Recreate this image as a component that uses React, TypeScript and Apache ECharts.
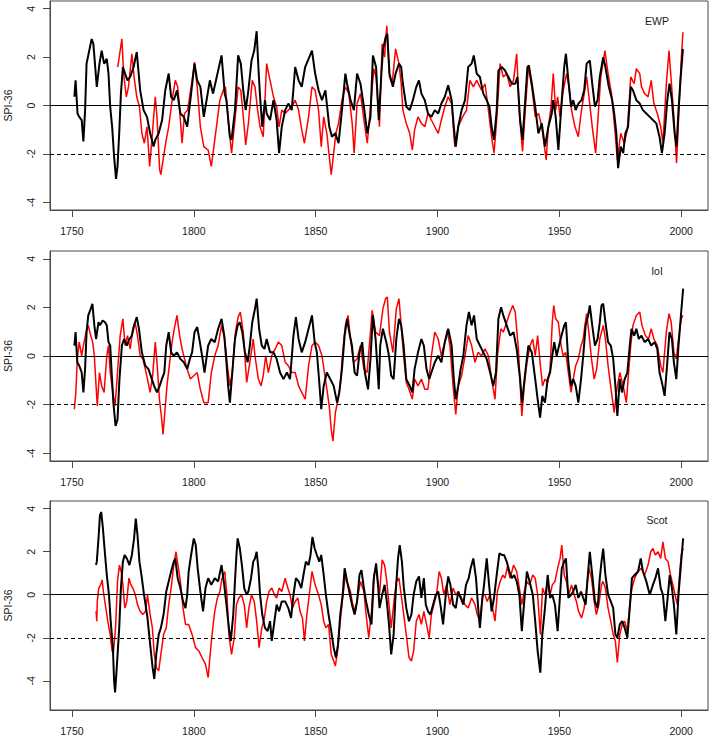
import React, { useEffect, useRef } from "react";
import * as echarts from "echarts";

const yearTicks = [1750, 1800, 1850, 1900, 1950, 2000];
const spiTicks = [-4, -2, 0, 2, 4];
const panelNames = ["EWP", "IoI", "Scot"];
const yLimits: [number, number][] = [[-4.32, 4.32], [-4.32, 4.32], [-5.36, 4.36]];
const refLevels = { zero: 0, drought: -2 };

const ewpBlack: [number, number][] = [[1751.0,0.36],[1751.5,1.04],[1752.3,-0.33],[1753.0,-0.47],[1754.0,-0.60],[1754.7,-1.49],[1755.4,-0.19],[1756.0,1.73],[1757.1,2.27],[1758.1,2.75],[1758.8,2.55],[1760.2,0.77],[1761.3,1.73],[1762.2,2.27],[1763.2,1.73],[1764.3,1.93],[1765.0,1.32],[1765.7,-0.05],[1766.5,-0.88],[1767.3,-2.11],[1768.1,-3.03],[1768.7,-2.52],[1769.4,-1.15],[1770.1,0.49],[1770.9,1.59],[1771.8,1.32],[1772.8,1.04],[1773.9,1.18],[1775.3,1.59],[1776.6,2.21],[1778.0,0.63],[1779.4,-0.19],[1780.8,-0.47],[1782.1,-1.15],[1783.5,-1.70],[1784.2,-1.42],[1785.6,-1.15],[1787.0,-0.60],[1788.3,0.63],[1789.7,1.32],[1790.7,0.36],[1791.8,0.22],[1793.1,0.63],[1794.5,-0.33],[1795.9,-0.47],[1797.3,-0.88],[1798.6,0.22],[1800.3,1.73],[1801.4,1.04],[1802.7,0.77],[1804.1,-0.47],[1806.6,1.04],[1807.9,0.49],[1810.0,1.45],[1811.4,2.07],[1812.7,0.49],[1813.4,0.22],[1814.8,-1.29],[1815.5,-1.42],[1816.9,-0.19],[1818.2,2.07],[1819.3,1.73],[1820.3,0.63],[1821.3,-0.19],[1822.4,0.63],[1823.7,1.86],[1824.8,2.27],[1825.8,3.07],[1826.5,1.59],[1827.2,0.36],[1828.1,-0.88],[1829.2,0.22],[1829.9,-0.33],[1831.3,-0.60],[1832.7,0.22],[1834.0,-0.60],[1835.0,-1.97],[1836.1,-0.88],[1837.5,-0.19],[1838.8,0.08],[1840.2,-0.19],[1841.6,1.59],[1843.0,1.04],[1844.3,0.77],[1845.7,1.59],[1847.1,1.93],[1848.5,2.27],[1849.8,1.32],[1851.2,0.63],[1852.6,0.22],[1854.0,0.63],[1855.6,-0.88],[1856.7,-1.29],[1858.1,-1.15],[1859.4,-1.56],[1860.8,-0.19],[1862.2,1.32],[1862.9,0.90],[1864.3,0.22],[1865.7,-0.19],[1867.0,1.32],[1868.4,0.90],[1869.8,-0.05],[1871.2,-1.15],[1872.5,-0.47],[1873.5,2.07],[1874.8,1.59],[1875.9,-0.60],[1876.9,1.18],[1877.6,2.27],[1878.7,2.82],[1879.4,2.96],[1880.3,1.32],[1881.7,0.77],[1882.8,1.32],[1884.2,1.73],[1885.1,1.59],[1885.8,0.90],[1887.2,-0.05],[1888.6,-0.19],[1889.9,0.22],[1891.3,0.77],[1892.4,1.04],[1893.4,0.49],[1894.8,0.22],[1896.1,-0.33],[1897.5,-0.47],[1898.9,-0.19],[1900.3,-0.33],[1901.6,0.08],[1903.0,0.36],[1904.4,0.84],[1905.8,0.22],[1906.7,-0.88],[1907.5,-1.70],[1908.5,-0.88],[1909.9,-0.19],[1911.3,0.22],[1912.6,1.59],[1914.0,1.73],[1914.9,2.07],[1916.1,1.32],[1917.4,1.18],[1918.8,0.49],[1920.2,0.22],[1921.3,-0.05],[1922.2,-0.88],[1923.2,-1.42],[1924.3,-0.19],[1925.0,1.45],[1926.4,1.59],[1927.7,1.45],[1929.1,1.18],[1930.5,0.90],[1931.9,0.90],[1932.8,1.18],[1933.9,-0.60],[1934.9,-1.42],[1936.0,0.22],[1936.9,1.59],[1937.5,1.66],[1938.7,0.90],[1940.1,-0.05],[1941.4,-1.15],[1942.8,-0.74],[1944.1,-1.70],[1945.5,-0.88],[1946.9,-0.33],[1947.5,0.22],[1948.5,-0.47],[1949.6,-1.84],[1951.0,0.22],[1952.0,1.59],[1952.7,2.14],[1953.7,1.04],[1954.8,-0.05],[1955.7,0.22],[1956.7,-0.19],[1957.8,0.08],[1959.1,0.22],[1960.2,0.63],[1961.2,1.73],[1962.5,1.86],[1963.5,0.90],[1964.6,-0.05],[1965.7,0.22],[1966.6,1.18],[1968.0,2.00],[1968.9,1.59],[1970.3,0.77],[1971.7,0.22],[1972.5,-0.33],[1973.4,-1.15],[1974.1,-2.59],[1975.2,-1.70],[1976.2,-1.97],[1977.1,-1.15],[1978.2,-0.88],[1979.3,0.77],[1980.2,0.63],[1981.6,0.22],[1983.0,0.08],[1984.3,-0.19],[1985.7,-0.33],[1987.1,-0.47],[1988.4,-0.60],[1989.8,-0.74],[1991.1,-1.29],[1992.1,-1.97],[1993.2,-1.15],[1994.3,0.22],[1995.2,0.90],[1996.2,0.22],[1997.3,-1.15],[1998.1,-1.70],[1998.9,-0.19],[1999.7,1.04],[2000.7,2.34]];

const ewpRed: [number, number][] = [[1768.8,1.59],[1770.5,2.75],[1771.2,1.32],[1772.3,0.36],[1773.2,0.77],[1774.6,2.14],[1775.5,1.18],[1776.6,0.36],[1777.7,-0.05],[1778.7,-1.15],[1779.7,-1.56],[1780.8,-0.88],[1781.9,-2.52],[1782.8,-1.42],[1784.2,0.36],[1784.9,-0.47],[1786.0,-2.66],[1786.5,-2.86],[1787.6,-2.11],[1788.7,-1.42],[1789.7,-0.88],[1791.1,0.22],[1792.4,1.04],[1793.4,0.77],[1794.2,-0.19],[1795.2,-1.56],[1796.2,-0.33],[1797.5,-0.19],[1799.3,1.04],[1800.3,1.79],[1801.4,0.77],[1802.7,-0.88],[1804.1,-1.70],[1805.9,-1.84],[1807.2,-2.52],[1807.9,-1.97],[1809.3,-0.88],[1810.7,0.22],[1812.1,0.63],[1813.0,0.77],[1814.1,-0.60],[1815.5,-1.97],[1816.9,-0.60],[1818.2,0.77],[1819.3,0.63],[1820.7,-0.88],[1821.3,-1.63],[1822.4,-0.74],[1824.0,1.04],[1825.1,0.77],[1826.2,-0.19],[1827.2,-0.88],[1828.5,-1.29],[1829.9,1.73],[1831.3,1.04],[1832.7,0.36],[1834.0,-0.05],[1835.0,-0.88],[1836.1,-0.19],[1837.5,-0.33],[1838.8,-0.19],[1840.2,-0.05],[1841.6,0.22],[1843.0,-0.19],[1844.3,-1.01],[1845.4,-1.56],[1847.1,-0.47],[1848.5,0.77],[1849.8,0.63],[1851.2,-0.19],[1852.3,-1.70],[1853.3,-0.47],[1854.6,-1.15],[1855.6,-2.11],[1856.4,-2.86],[1857.4,-1.97],[1858.3,-1.15],[1859.4,-0.74],[1860.8,0.22],[1862.2,0.77],[1863.6,0.49],[1865.0,-0.74],[1865.8,-1.97],[1867.0,0.08],[1868.4,0.49],[1869.8,-0.60],[1871.2,-1.56],[1872.5,-0.05],[1873.9,1.52],[1874.8,1.18],[1876.2,-0.88],[1877.3,2.55],[1878.3,2.00],[1879.2,3.30],[1880.3,1.18],[1881.4,0.90],[1882.8,2.34],[1884.2,1.73],[1885.1,0.90],[1885.8,-0.19],[1887.2,-0.74],[1888.6,-1.15],[1889.7,-1.84],[1890.6,-1.01],[1892.0,-0.47],[1893.4,-0.74],[1894.8,-0.88],[1896.1,-0.33],[1897.5,-0.60],[1898.9,-0.88],[1900.3,-1.15],[1901.6,-0.60],[1903.0,-0.05],[1904.4,0.36],[1905.8,0.08],[1907.1,-1.70],[1908.5,-0.88],[1910.3,-0.47],[1911.9,-0.19],[1913.3,1.04],[1914.7,0.77],[1916.1,1.04],[1918.1,0.63],[1919.5,0.90],[1920.9,-0.19],[1922.2,-1.29],[1923.2,-1.97],[1924.3,-0.60],[1925.7,1.73],[1927.0,1.18],[1928.4,1.32],[1929.8,0.77],[1931.2,1.04],[1932.5,2.14],[1933.6,-0.33],[1934.9,-1.90],[1936.0,-0.19],[1937.3,1.59],[1938.7,0.77],[1940.1,-0.47],[1941.5,-0.33],[1942.8,-0.88],[1944.6,-2.25],[1945.5,-0.88],[1946.6,-0.05],[1947.5,1.32],[1948.5,-0.19],[1949.3,0.36],[1950.3,-0.47],[1951.6,0.63],[1953.0,1.32],[1954.0,0.77],[1955.0,-0.19],[1956.4,-0.88],[1957.8,-1.29],[1958.9,-0.33],[1960.2,0.49],[1961.2,1.18],[1962.3,0.22],[1963.5,-0.88],[1964.9,-1.97],[1965.9,-0.47],[1967.0,1.18],[1968.7,2.27],[1970.0,1.32],[1971.4,0.49],[1972.8,-1.01],[1973.8,-2.25],[1975.2,-1.15],[1976.6,-1.56],[1977.9,-1.01],[1979.3,1.18],[1980.7,0.90],[1981.6,1.52],[1983.0,1.32],[1983.7,0.77],[1985.0,0.49],[1986.4,0.36],[1987.7,1.04],[1988.8,0.08],[1990.2,-0.33],[1991.6,-0.88],[1992.5,-1.56],[1993.9,0.90],[1995.0,2.27],[1995.9,1.04],[1997.0,-0.47],[1998.1,-2.38],[1998.9,-0.60],[2000.0,1.86],[2000.7,3.03]];

const ioiBlack: [number, number][] = [[1751.0,0.43],[1751.5,0.98],[1752.2,-0.26],[1753.0,-0.40],[1754.0,-0.68],[1754.7,-1.50],[1755.4,-0.54],[1756.0,0.98],[1756.7,1.67],[1757.7,1.94],[1758.4,2.15],[1759.2,1.26],[1759.9,0.70],[1760.9,1.39],[1761.5,1.26],[1762.6,1.46],[1763.6,1.39],[1764.3,1.26],[1765.0,0.57],[1765.7,0.43],[1766.3,-0.68],[1767.0,-1.92],[1767.9,-2.88],[1768.7,-2.61],[1769.5,-0.95],[1770.5,0.43],[1771.4,0.70],[1772.5,0.43],[1773.6,0.70],[1774.6,0.84],[1775.5,1.26],[1776.6,1.60],[1777.5,1.12],[1778.7,0.15],[1780.1,-0.40],[1781.4,-0.54],[1782.8,-0.95],[1783.7,-1.23],[1784.9,-1.50],[1786.0,-1.23],[1786.9,-0.95],[1787.9,-0.68],[1788.7,0.43],[1789.7,0.98],[1790.7,0.15],[1791.8,0.01],[1793.1,0.15],[1794.5,-0.12],[1795.9,-0.26],[1797.3,-0.54],[1798.4,-0.12],[1799.3,0.15],[1800.3,0.98],[1801.4,1.19],[1802.5,0.57],[1803.4,0.01],[1804.4,-0.68],[1805.9,0.43],[1807.2,0.70],[1808.6,0.57],[1810.0,1.12],[1811.4,1.53],[1812.5,0.84],[1813.4,-0.26],[1814.1,-1.23],[1814.8,-1.92],[1815.8,-0.68],[1816.9,0.70],[1818.0,1.26],[1818.9,1.39],[1819.9,0.98],[1821.0,0.15],[1822.1,-0.26],[1823.0,0.43],[1824.0,1.39],[1825.1,1.94],[1825.8,2.36],[1826.8,1.12],[1827.9,0.43],[1829.0,0.29],[1829.9,0.70],[1831.3,0.15],[1832.7,0.15],[1834.0,-0.12],[1835.4,-0.68],[1836.8,-0.95],[1838.2,-0.68],[1839.5,-0.95],[1840.9,0.84],[1841.9,1.60],[1843.0,0.70],[1844.3,0.15],[1845.7,0.57],[1847.1,1.12],[1848.5,1.67],[1849.6,0.57],[1850.5,0.15],[1851.5,-1.09],[1852.3,-2.19],[1853.3,-1.23],[1854.6,-0.68],[1856.0,-0.95],[1857.4,-1.23],[1858.8,-1.92],[1859.7,-1.50],[1860.8,-0.54],[1861.9,0.84],[1862.9,1.53],[1863.8,0.98],[1864.9,0.43],[1866.0,-0.68],[1867.0,-0.81],[1868.0,0.15],[1869.1,0.57],[1870.2,-0.68],[1871.5,-1.37],[1872.5,-0.12],[1873.5,1.67],[1874.6,0.70],[1875.9,-1.37],[1876.5,0.43],[1877.6,1.12],[1879.0,0.57],[1880.1,0.01],[1881.0,-0.81],[1882.0,-0.95],[1883.1,0.70],[1884.2,1.53],[1885.1,1.26],[1886.1,0.43],[1887.2,-0.95],[1888.6,-1.23],[1889.7,-1.50],[1890.6,-0.54],[1892.0,0.15],[1893.4,0.70],[1894.4,0.43],[1895.5,-0.54],[1896.6,-0.95],[1897.5,-0.68],[1898.9,-0.26],[1900.3,0.01],[1901.6,-0.26],[1903.0,0.57],[1904.4,1.12],[1905.8,0.43],[1906.7,-0.95],[1907.5,-1.78],[1908.5,-1.23],[1909.5,-0.54],[1910.6,0.01],[1911.9,1.26],[1912.9,1.81],[1914.0,1.26],[1915.0,1.67],[1916.1,0.70],[1917.4,0.43],[1918.8,0.15],[1920.2,-0.12],[1921.6,-0.68],[1922.9,-1.23],[1924.0,-0.68],[1925.0,1.53],[1926.1,2.01],[1927.0,1.67],[1928.4,1.26],[1929.8,0.84],[1931.2,0.98],[1932.5,0.29],[1933.9,-0.95],[1934.7,-1.92],[1936.0,-0.68],[1937.3,0.43],[1938.7,0.15],[1940.1,-0.95],[1941.1,-1.78],[1942.1,-2.54],[1943.0,-1.64],[1944.1,-1.92],[1945.2,-0.95],[1946.2,-0.68],[1947.1,0.01],[1947.9,0.57],[1948.9,0.01],[1949.9,0.43],[1950.9,0.84],[1952.0,1.26],[1952.7,1.39],[1953.7,-0.26],[1954.8,-1.23],[1955.7,-0.95],[1956.7,-1.23],[1957.8,-1.92],[1958.9,-0.95],[1959.8,0.01],[1960.8,1.26],[1961.8,1.67],[1962.5,2.08],[1963.5,1.26],[1964.6,0.43],[1965.7,0.70],[1966.6,1.39],[1967.3,2.08],[1968.0,2.15],[1968.9,1.39],[1970.0,0.57],[1971.1,0.43],[1972.1,-0.12],[1973.0,-1.23],[1973.8,-2.47],[1974.8,-0.95],[1975.7,-1.50],[1976.8,-0.95],[1977.9,-0.68],[1978.9,0.43],[1979.6,1.12],[1980.7,0.84],[1981.6,1.12],[1982.6,0.70],[1983.7,0.84],[1985.0,0.57],[1986.4,0.70],[1987.7,0.43],[1989.1,0.57],[1990.2,0.29],[1991.1,-0.68],[1992.1,-1.09],[1993.2,-1.64],[1994.3,-0.26],[1995.2,0.98],[1996.2,0.70],[1997.0,-0.26],[1998.0,-0.95],[1998.9,0.43],[2000.0,1.81],[2000.8,2.77]];

const ioiRed: [number, number][] = [[1751.0,-2.19],[1751.6,-1.50],[1752.2,-0.12],[1753.0,0.57],[1754.0,0.01],[1754.7,0.43],[1755.8,0.98],[1756.7,1.26],[1757.7,0.84],[1758.5,0.57],[1759.2,0.01],[1759.9,-1.23],[1760.4,-2.06],[1761.3,-0.68],[1762.2,-1.23],[1763.2,-1.50],[1764.3,0.01],[1765.0,0.43],[1765.7,-0.68],[1766.8,-1.50],[1767.7,-2.06],[1768.7,-0.68],[1769.8,0.84],[1770.9,1.53],[1771.8,0.43],[1772.8,0.84],[1773.9,0.29],[1775.0,1.12],[1775.9,1.39],[1776.9,0.84],[1778.0,0.01],[1779.1,-0.12],[1780.1,-0.54],[1781.0,-0.95],[1782.1,-1.50],[1783.1,-0.81],[1784.2,0.57],[1784.9,-0.26],[1785.9,-1.78],[1786.7,-2.47],[1787.4,-3.23],[1788.1,-2.33],[1789.0,-1.23],[1790.1,-0.26],[1791.1,0.57],[1792.0,1.12],[1793.1,1.67],[1794.2,0.84],[1795.2,0.29],[1796.2,-0.12],[1797.3,-0.54],[1798.6,-0.95],[1800.0,-0.81],[1801.4,-0.68],[1802.7,-1.37],[1804.1,-1.92],[1805.9,-1.92],[1807.2,-0.68],[1808.6,0.01],[1810.0,0.43],[1811.4,1.26],[1812.7,0.70],[1813.8,-0.40],[1814.8,-1.23],[1815.8,-0.68],[1817.1,0.98],[1818.2,1.60],[1819.1,1.81],[1820.3,0.98],[1821.7,-1.09],[1823.0,-0.26],[1824.4,0.70],[1825.1,0.01],[1826.5,-0.95],[1827.6,-1.23],[1828.5,-0.81],[1829.5,0.01],[1830.6,-0.68],[1832.0,0.01],[1833.4,0.29],[1834.7,0.57],[1836.1,0.43],[1837.5,-0.26],[1838.8,-0.40],[1840.2,-0.68],[1841.6,-0.68],[1843.0,-1.23],[1844.3,-1.50],[1845.7,-1.78],[1847.1,-0.40],[1848.5,0.43],[1849.8,0.57],[1851.2,0.43],[1852.6,0.01],[1854.0,-0.95],[1855.6,-2.06],[1856.4,-3.02],[1857.1,-3.50],[1858.1,-2.33],[1859.2,-1.78],[1860.1,-1.23],[1861.1,0.15],[1862.2,1.26],[1863.3,1.67],[1864.3,0.70],[1865.6,-0.26],[1867.0,-0.12],[1868.4,0.43],[1869.8,-0.54],[1871.1,-0.68],[1872.5,0.98],[1873.2,1.88],[1874.6,0.98],[1876.2,0.84],[1877.6,1.94],[1878.7,2.36],[1879.4,2.43],[1880.3,0.98],[1881.7,0.15],[1883.1,1.94],[1884.2,2.36],[1885.1,1.26],[1886.1,0.01],[1887.2,-1.09],[1888.3,-1.37],[1889.7,-1.78],[1890.6,-0.95],[1892.0,-1.23],[1893.4,-0.95],[1894.8,-1.37],[1896.1,-1.37],[1897.5,0.01],[1898.9,0.98],[1900.3,0.70],[1901.6,0.01],[1903.0,0.57],[1904.0,1.05],[1905.1,0.43],[1906.4,-1.23],[1907.5,-2.40],[1908.5,-1.23],[1909.9,-0.81],[1911.3,0.01],[1912.6,0.84],[1914.0,0.43],[1915.4,-0.26],[1916.7,0.15],[1918.1,0.01],[1919.5,0.29],[1920.9,0.01],[1922.2,-0.95],[1923.6,-1.78],[1924.6,0.01],[1926.0,1.12],[1927.0,0.98],[1928.4,1.39],[1929.8,1.81],[1930.9,2.08],[1931.9,1.81],[1933.2,0.29],[1934.6,-2.47],[1935.6,-1.23],[1936.7,-0.26],[1938.0,0.43],[1939.1,0.70],[1940.1,0.01],[1941.1,0.84],[1942.1,-0.26],[1943.1,-1.23],[1944.1,-0.95],[1945.2,-1.09],[1946.2,-0.54],[1947.1,1.39],[1947.7,2.08],[1948.5,1.53],[1949.6,1.39],[1950.7,0.43],[1951.6,0.01],[1952.6,0.15],[1953.7,-0.68],[1954.8,-1.50],[1955.7,-0.95],[1956.7,-0.40],[1957.8,-0.12],[1958.9,0.43],[1959.8,0.70],[1960.5,1.26],[1961.2,1.74],[1962.1,0.98],[1963.2,-0.12],[1964.3,-0.95],[1965.3,-0.54],[1966.6,0.70],[1968.0,1.26],[1968.9,0.70],[1970.0,-0.40],[1971.4,-1.50],[1972.5,-2.33],[1973.4,-1.50],[1974.8,-0.68],[1976.2,-1.23],[1977.5,-1.92],[1978.2,-0.95],[1979.3,0.43],[1980.2,1.26],[1981.6,1.67],[1983.0,1.81],[1983.9,1.26],[1985.3,0.84],[1986.6,0.70],[1987.7,1.12],[1988.8,0.70],[1990.2,0.43],[1991.6,-0.40],[1992.5,-0.68],[1993.9,0.98],[1995.0,1.74],[1995.9,1.39],[1997.0,0.15],[1998.0,-0.12],[1998.9,0.70],[2000.0,1.53],[2000.7,1.67]];

const scotBlack: [number, number][] = [[1759.9,1.38],[1760.2,1.54],[1760.9,2.62],[1761.5,3.69],[1762.0,3.85],[1762.6,3.23],[1763.6,1.85],[1764.3,0.92],[1765.2,0],[1765.9,-1.23],[1766.8,-2.46],[1767.3,-4.0],[1767.7,-4.54],[1768.4,-3.38],[1769.4,-1.54],[1770.1,0.31],[1770.9,1.54],[1771.6,1.85],[1772.5,1.69],[1773.6,1.38],[1774.6,1.85],[1775.5,2.62],[1776.2,3.54],[1776.9,2.77],[1777.7,1.54],[1778.7,0.77],[1779.4,0.15],[1780.2,-0.46],[1781.0,-1.08],[1782.1,-2.31],[1783.1,-3.38],[1783.8,-3.92],[1784.6,-2.77],[1785.6,-1.85],[1786.5,-1.54],[1787.6,-0.92],[1788.7,0.15],[1789.7,0.62],[1790.7,1.08],[1791.8,1.54],[1792.4,1.69],[1793.4,0.77],[1794.5,0.31],[1795.6,-0.31],[1796.6,-0.62],[1797.3,0],[1797.9,1.08],[1798.9,1.85],[1800.0,2.62],[1800.8,2.31],[1801.6,1.23],[1802.7,0.15],[1803.8,-0.77],[1804.8,0.31],[1805.9,0.77],[1807.2,0.46],[1808.6,0.77],[1810.0,0.62],[1811.4,1.38],[1812.5,0.46],[1813.4,-0.46],[1814.4,-1.54],[1815.2,-2.15],[1816.2,-0.92],[1816.9,0.62],[1817.5,1.85],[1818.0,2.62],[1818.9,2.15],[1819.9,1.23],[1820.7,0.31],[1821.7,0],[1822.4,0.15],[1823.5,0.77],[1824.4,1.54],[1825.1,1.69],[1825.8,2.00],[1826.5,1.23],[1827.2,0],[1828.1,-0.92],[1829.2,-1.54],[1830.3,-1.69],[1831.3,-1.23],[1832.0,-2.15],[1833.1,-1.23],[1834.0,-0.46],[1835.0,-0.77],[1836.1,-0.31],[1837.5,-0.31],[1838.8,-0.62],[1839.9,-1.08],[1840.9,0],[1841.9,0.77],[1843.0,0.62],[1844.1,0.31],[1845.0,0.92],[1846.0,1.54],[1847.1,1.38],[1847.9,1.85],[1848.7,2.69],[1849.6,2.15],[1850.5,1.85],[1851.5,1.54],[1852.3,1.85],[1853.3,0.92],[1854.2,0],[1855.3,-0.92],[1856.4,-1.69],[1857.4,-2.46],[1858.3,-2.92],[1859.2,-2.31],[1860.1,-0.92],[1861.1,0],[1861.9,1.23],[1862.9,0.62],[1863.8,0.15],[1864.9,-0.46],[1866.0,-0.92],[1867.0,-0.31],[1868.0,0.92],[1868.8,1.15],[1869.8,0.31],[1870.7,-0.31],[1871.8,-0.92],[1872.9,-1.38],[1873.9,0.77],[1874.8,1.46],[1875.7,0.31],[1876.2,-0.62],[1877.3,0],[1878.3,0.46],[1879.2,-0.31],[1880.1,-1.38],[1881.0,-2.77],[1882.0,-1.85],[1882.8,0],[1883.8,1.69],[1884.5,2.31],[1885.4,1.54],[1886.2,0.31],[1887.2,-0.62],[1888.3,-1.23],[1889.3,-0.92],[1890.2,0],[1891.3,0.62],[1892.4,0.85],[1893.4,-0.15],[1894.4,0.77],[1895.2,-0.46],[1896.1,-0.77],[1897.1,-0.92],[1898.2,-0.46],[1899.3,0],[1900.3,0.15],[1901.2,-0.46],[1902.3,-1.38],[1903.4,0],[1904.4,0.85],[1905.3,0.46],[1906.4,-0.46],[1907.5,-0.62],[1908.5,0.15],[1909.5,-0.15],[1910.6,-0.46],[1911.7,0.46],[1912.8,0.77],[1913.6,1.23],[1914.7,1.69],[1915.8,0.77],[1916.7,-0.62],[1917.4,-1.54],[1918.3,-0.31],[1919.1,0.46],[1920.2,1.69],[1921.3,0.31],[1922.2,-0.77],[1923.2,-0.15],[1924.3,0.92],[1925.4,1.92],[1926.4,1.85],[1927.3,1.85],[1928.4,1.54],[1929.5,1.08],[1930.5,0.77],[1931.4,0.92],[1932.5,0.62],[1933.6,0],[1934.6,-1.69],[1935.6,-0.31],[1936.7,1.08],[1937.8,0.62],[1939.1,0],[1940.1,-1.23],[1941.1,-2.62],[1942.2,-3.62],[1943.0,-1.85],[1944.1,-0.62],[1945.2,0.92],[1946.2,-0.15],[1947.1,0],[1948.2,-0.46],[1949.3,-1.69],[1950.3,0],[1951.0,1.23],[1952.0,1.54],[1952.7,1.69],[1953.7,-0.15],[1954.8,0],[1955.7,0.15],[1956.7,0.46],[1957.8,-0.15],[1958.9,0.15],[1959.8,-0.15],[1960.8,-0.46],[1961.6,0.77],[1962.5,2.00],[1963.5,0.92],[1964.6,-0.31],[1965.7,-0.62],[1966.6,0.77],[1967.3,1.54],[1968.0,2.15],[1968.9,0.92],[1970.0,0],[1971.1,-0.31],[1972.1,-0.62],[1973.0,-1.85],[1973.8,-2.00],[1974.8,-1.38],[1975.8,-1.23],[1976.8,-1.54],[1977.9,-2.00],[1978.9,-0.62],[1979.8,0.77],[1980.9,0.92],[1982.3,1.08],[1983.4,1.69],[1984.3,1.08],[1985.7,0.62],[1987.1,0],[1988.4,0.46],[1989.4,0.77],[1990.5,1.23],[1991.6,0.31],[1992.5,0],[1993.5,-1.23],[1994.3,-0.31],[1995.3,0.92],[1996.2,0.31],[1997.0,-0.46],[1998.0,-1.85],[1998.9,0],[2000.0,1.54],[2000.8,2.62]];

const scotRed: [number, number][] = [[1759.9,-0.77],[1760.2,-1.23],[1760.4,-0.31],[1761.0,0.31],[1761.8,0.46],[1762.4,0.69],[1762.9,0.15],[1763.7,-0.46],[1764.7,-1.23],[1765.7,-1.85],[1766.5,-2.62],[1767.0,-2.69],[1767.9,-1.54],[1768.7,0.62],[1769.5,1.38],[1770.2,1.08],[1770.9,0.46],[1771.7,-0.62],[1772.5,-0.31],[1773.4,0.77],[1774.2,0.46],[1775.0,0.31],[1776.0,0],[1776.9,-0.46],[1778.0,-0.77],[1779.1,-0.92],[1780.2,-0.77],[1781.0,0],[1782.1,-0.92],[1783.0,-1.54],[1783.8,-2.77],[1784.6,-3.38],[1785.6,-3.54],[1786.5,-2.77],[1787.6,-1.85],[1788.7,-1.54],[1789.7,-0.46],[1790.7,0.31],[1791.8,1.38],[1792.7,2.00],[1793.7,1.23],[1794.5,0.62],[1795.6,-0.62],[1796.6,-1.38],[1797.9,-1.38],[1799.3,-1.85],[1800.7,-2.46],[1802.1,-2.62],[1803.4,-2.92],[1804.8,-3.23],[1805.9,-3.85],[1806.6,-2.92],[1807.5,-1.85],[1808.6,-0.77],[1809.7,-0.15],[1810.7,0.15],[1811.6,0.77],[1812.7,1.08],[1813.6,0],[1814.4,-1.85],[1815.5,-2.77],[1816.6,-2.00],[1817.5,-0.46],[1818.5,-0.15],[1819.6,0],[1820.7,-0.46],[1821.7,-1.54],[1822.6,-0.62],[1823.7,0],[1824.8,-0.31],[1825.8,-1.23],[1826.8,-2.46],[1827.9,-1.54],[1829.0,-1.08],[1829.9,-0.31],[1830.9,0.15],[1832.0,0.31],[1833.1,0],[1834.0,-0.15],[1835.0,0.31],[1836.1,0.15],[1837.5,0.77],[1838.6,0.31],[1839.5,0],[1840.5,-0.62],[1841.6,-0.31],[1842.7,-0.15],[1843.6,-0.77],[1844.6,-1.08],[1845.4,-2.15],[1846.4,-0.92],[1847.4,0],[1848.5,1.08],[1849.8,0.46],[1851.2,0],[1852.3,-0.46],[1853.3,-1.23],[1854.2,-1.54],[1855.3,-1.38],[1856.4,-2.77],[1857.4,-3.08],[1858.1,-3.31],[1859.0,-2.62],[1860.1,-1.23],[1861.1,-0.15],[1862.2,0.92],[1863.3,0.46],[1864.3,0.15],[1865.2,-0.46],[1866.3,-0.77],[1867.4,0],[1868.4,0.62],[1869.8,0.15],[1870.7,-0.92],[1871.8,-2.00],[1872.9,-0.77],[1873.9,0.92],[1874.8,1.23],[1875.7,0.46],[1876.2,0],[1877.3,1.62],[1878.3,1.38],[1879.2,0.62],[1880.1,-0.46],[1881.0,-1.54],[1882.0,-0.46],[1883.1,0.62],[1884.2,0.77],[1885.1,0],[1886.5,-1.23],[1887.5,-2.15],[1888.3,-2.92],[1889.3,-3.08],[1890.2,-2.62],[1891.3,-1.23],[1892.4,-0.92],[1893.4,-1.38],[1894.4,-0.77],[1895.5,-1.38],[1896.6,-2.00],[1897.5,-0.92],[1898.5,-0.46],[1899.6,0],[1900.7,1.08],[1901.6,0.77],[1902.6,0],[1903.7,0.46],[1905.1,-0.46],[1906.4,0.31],[1907.5,0],[1908.6,0.15],[1909.9,-0.15],[1911.3,-0.46],[1912.6,-0.62],[1914.0,-0.15],[1915.4,-0.46],[1916.3,-0.92],[1917.4,-1.23],[1918.5,0],[1919.5,0],[1920.4,-0.31],[1921.5,0],[1922.6,-0.62],[1923.6,-1.23],[1924.6,0.15],[1925.7,0.62],[1926.8,0.92],[1927.7,0.77],[1928.7,1.31],[1929.8,0.77],[1931.2,1.38],[1932.5,1.08],[1933.6,0.31],[1934.6,-0.46],[1935.6,0.15],[1936.7,0.62],[1937.8,0.46],[1939.1,0.92],[1940.1,0.77],[1941.1,0],[1942.2,-1.85],[1943.1,0.31],[1944.1,0],[1945.2,0.62],[1946.2,0],[1947.1,0.46],[1948.2,0.62],[1949.3,1.23],[1950.3,1.69],[1951.0,2.31],[1952.0,0.92],[1952.9,0.62],[1953.9,0],[1955.0,0.46],[1956.1,0],[1957.0,-0.31],[1957.9,-0.77],[1959.1,-1.08],[1960.2,-0.62],[1961.2,0.31],[1962.1,1.23],[1963.2,0.77],[1964.3,-0.31],[1965.2,-0.92],[1966.2,-0.46],[1967.3,0.46],[1967.9,0.62],[1968.9,0.31],[1970.0,-0.62],[1971.1,-1.23],[1972.1,-1.85],[1973.0,-2.15],[1973.8,-3.15],[1974.8,-1.85],[1975.8,-1.38],[1976.8,-1.23],[1977.9,-1.69],[1978.9,-0.46],[1979.8,0.31],[1980.9,0.77],[1982.3,1.08],[1983.6,1.23],[1985.0,0.92],[1986.4,1.38],[1987.5,2.00],[1988.4,2.15],[1989.4,1.85],[1990.5,2.00],[1991.6,1.69],[1992.5,2.46],[1993.5,1.69],[1994.6,1.54],[1995.6,0.92],[1996.6,0.46],[1997.5,0],[1998.4,-0.46],[1999.3,0.92],[2000.0,1.85],[2000.8,2.15]];

const blackSeries = [ewpBlack, ioiBlack, scotBlack];
const redSeries = [ewpRed, ioiRed, scotRed];

const FONT = "'Liberation Sans', Arial, sans-serif";
const TEXT_COLOR = "#1a1a1a";
const FRAME_COLOR = "#4a4a4a";
const GRID_TOPS = [1, 251, 501];
const GRID_HEIGHTS = [209, 210, 210];
const LABEL_Y = [21, 271, 520];

export default function App() {
  const ref = useRef<HTMLDivElement>(null);
  useEffect(() => {
    if (!ref.current) return;
    const chart = echarts.init(ref.current, null, { renderer: "svg" });
    const grids: any[] = [];
    const xAxes: any[] = [];
    const yAxes: any[] = [];
    const series: any[] = [];
    for (let i = 0; i < 3; i++) {
      grids.push({
        left: 50, top: GRID_TOPS[i], width: 658, height: GRID_HEIGHTS[i],
        show: true, borderColor: FRAME_COLOR, borderWidth: 1, backgroundColor: "transparent",
      });
      xAxes.push({
        type: "value", gridIndex: i, min: 1741, max: 2011,
        axisLine: { show: true, onZero: false, lineStyle: { color: FRAME_COLOR, width: 1 } },
        splitLine: { show: false },
        axisTick: { show: true, length: 7, inside: false, customValues: yearTicks, lineStyle: { color: FRAME_COLOR } },
        axisLabel: {
          show: true, customValues: yearTicks, margin: 15, fontSize: 10.5, color: TEXT_COLOR, fontFamily: FONT,
          formatter: (v: number) => String(v),
        },
      });
      yAxes.push({
        type: "value", gridIndex: i, min: yLimits[i][0], max: yLimits[i][1],
        axisLine: { show: true, onZero: false, lineStyle: { color: FRAME_COLOR, width: 1 } },
        splitLine: { show: false },
        axisTick: { show: true, length: 7, inside: false, customValues: spiTicks, lineStyle: { color: FRAME_COLOR } },
        axisLabel: { show: false },
      });
      series.push({
        type: "line", xAxisIndex: i, yAxisIndex: i, data: redSeries[i], showSymbol: false,
        lineStyle: { color: "#ff0000", width: 1.5 }, itemStyle: { color: "#ff0000" }, z: 2,
      });
      series.push({
        type: "line", xAxisIndex: i, yAxisIndex: i, data: blackSeries[i], showSymbol: false,
        lineStyle: { color: "#000000", width: 2 }, itemStyle: { color: "#000000" }, z: 3,
        markLine: {
          silent: true, symbol: ["none", "none"], label: { show: false }, animation: false,
          lineStyle: { color: "#000000", width: 1 },
          data: [
            { yAxis: refLevels.zero, lineStyle: { type: "solid", color: "#000000", width: 1 } },
            { yAxis: refLevels.drought, lineStyle: { type: [4, 3], color: "#000000", width: 1 } },
          ],
        },
      });
    }
    chart.setOption({
      animation: false,
      backgroundColor: "#ffffff",
      grid: grids,
      xAxis: xAxes,
      yAxis: yAxes,
      series,
    });

    const graphics: any[] = [];
    for (let i = 0; i < 3; i++) {
      for (const v of spiTicks) {
        const py = chart.convertToPixel({ yAxisIndex: i } as any, v) as unknown as number;
        graphics.push({
          type: "text", x: 31, y: py, rotation: Math.PI / 2,
          style: { text: String(v), fontSize: 10.5, fontFamily: FONT, fill: TEXT_COLOR, textAlign: "center", textVerticalAlign: "middle" },
        });
      }
      const midVal = (yLimits[i][0] + yLimits[i][1]) / 2;
      const midPy = chart.convertToPixel({ yAxisIndex: i } as any, midVal) as unknown as number;
      graphics.push({
        type: "text", x: 8, y: midPy, rotation: Math.PI / 2,
        style: { text: "SPI-36", fontSize: 10.5, fontFamily: FONT, fill: TEXT_COLOR, textAlign: "center", textVerticalAlign: "middle" },
      });
      graphics.push({
        type: "text", x: 657, y: LABEL_Y[i],
        style: { text: panelNames[i], fontSize: 10.5, fontFamily: FONT, fill: TEXT_COLOR, textAlign: "center", textVerticalAlign: "middle" },
      });
    }
    chart.setOption({ graphic: graphics });
    return () => chart.dispose();
  }, []);
  return <div ref={ref} style={{ position: "absolute", left: 0, top: 0, width: 709, height: 736 }} />;
}
